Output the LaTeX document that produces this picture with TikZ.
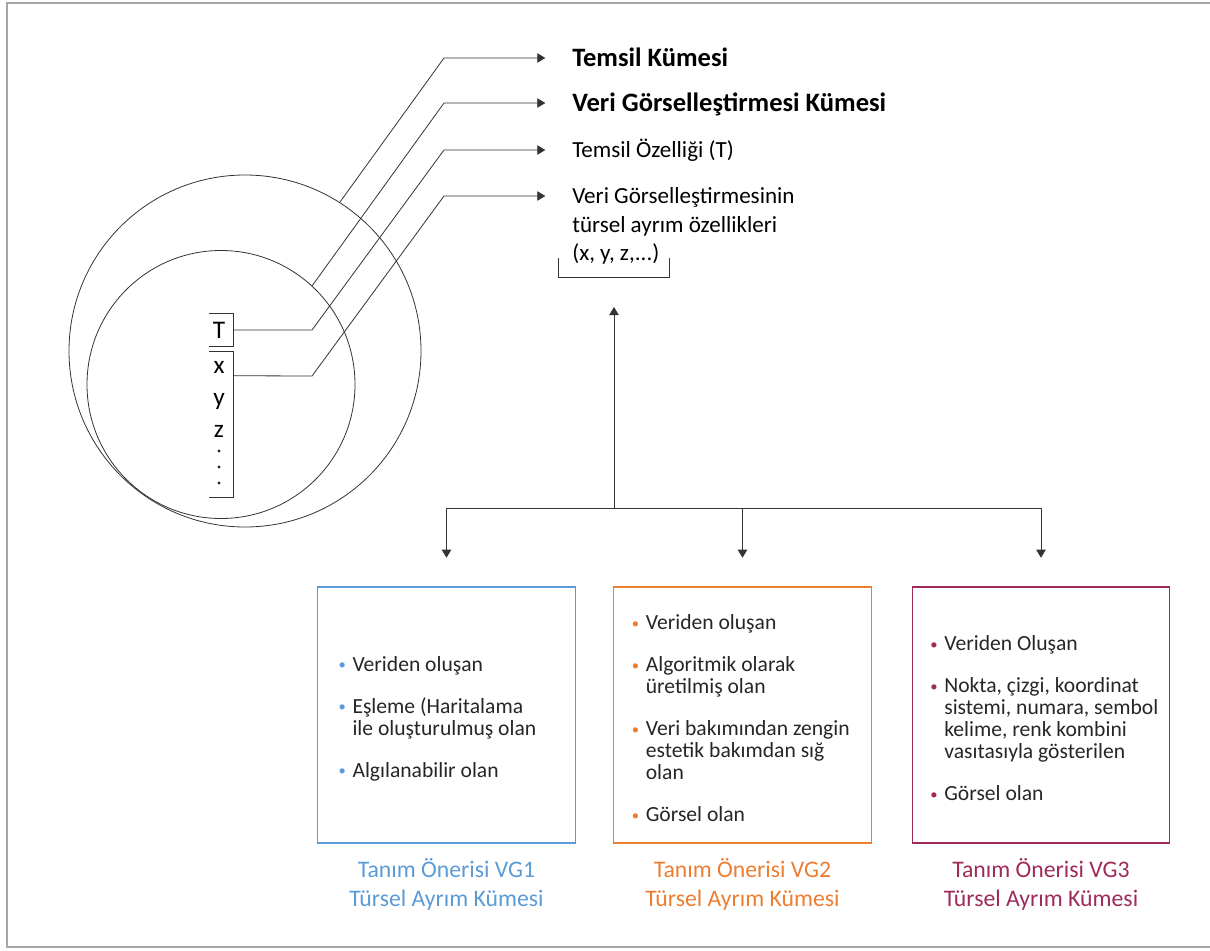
\documentclass[tikz,border=0pt]{standalone}
\usepackage{fontspec}
\setmainfont{Carlito}
\usepackage{enumitem}
\usetikzlibrary{arrows.meta,positioning}
\definecolor{vgblue}{RGB}{91,155,213}
\definecolor{vgorange}{RGB}{237,125,49}
\definecolor{vgred}{RGB}{158,42,90}
\definecolor{ink}{RGB}{38,38,38}
\newcommand{\vgdot}[1]{\raisebox{1pt}{\textcolor{#1}{\fontsize{11}{11}\selectfont\textbullet}}}
\newcommand{\plainspaces}{\spaceskip=0pt\xspaceskip=0pt\relax}
\begin{document}
\begin{tikzpicture}[x=0.75pt,y=-0.75pt,line cap=butt,line join=miter,>={Triangle[length=6pt,width=7pt]},
		ln/.style={black!80,line width=0.6pt},
		lbl/.style={anchor=west,inner sep=0pt,text height=11pt,text depth=0pt,font=\fontsize{17.3}{20}\selectfont},
		lblb/.style={lbl,text height=12.5pt,font=\fontsize{19.9}{22}\selectfont\bfseries},
		letter/.style={inner sep=0pt,text height=8.8pt,text depth=0pt,font=\fontsize{19}{22}\selectfont},
		brackbox/.style={inner sep=0pt,minimum width=18pt},
		vgbox/.style={draw=#1,line width=0.9pt,minimum width=193pt,minimum height=192pt,inner xsep=6pt,
			text width=181pt,text=ink,font=\fontsize{16.2}{16.5}\selectfont},
		vgcap/.style={text=#1,align=center,inner sep=0pt,font=\fontsize{17.8}{21.75}\selectfont}]
	\useasboundingbox (0,0) rectangle (1210,950);
	\draw[gray!70,line width=0.8pt] (1210,3)--(7,3)--(7,947)--(1210,947);
	% sets
	\draw[ln] (245,351) circle[radius=176];
	\draw[ln] (221,384.5) circle[radius=134];
	\coordinate (onOuter) at (340,202);
	\coordinate (onInner) at (312,286);
	% T and x, y, z, ...
	\node[brackbox,minimum height=24pt] (tbox) at (221,330) {};
	\node[letter] (tlet) at (219,333) {T};
	\draw[ln] (tbox.north west) -| (tbox.south east) -- (tbox.south west);
	\node[brackbox,minimum height=108.75pt] (xbox) at (221,424.5) {};
	\draw[ln] (xbox.north west) -| (xbox.south east) -- (xbox.south west);
	\node[anchor=north,inner sep=0pt,align=center,font=\fontsize{19}{24}\selectfont] (xyz) at (219,361.3)
		{x\\y\\z};
	\foreach \y in {451,467,483}{
		\fill[black!85] (219,\y) circle[radius=1.6];
	}
	% labels
	\node[lblb] (t1) at (572,58) {Temsil Kümesi};
	\node[lblb] (t2) at (572,103) {Veri Görselleştirmesi Kümesi};
	\node[lbl] (t3) at (572,150) {Temsil Özelliği (T)};
	\node[lbl] (t4) at (572,196) {Veri Görselleştirmesinin};
	\node[lbl] (t5) at (572,225) {türsel ayrım özellikleri};
	\node[lbl] (t6) at (572,253) {(x, y, z,...)};
	\draw[ln] (558,258) -- (558,277) -- (669,277) -- (669,258);
	\coordinate (brk) at (614,277);
	\begin{scope}[ln,->,shorten >=20pt]
		\draw (onOuter) -- (444,58) -- (t1);
		\draw (onInner) -- (444,103) -- (t2);
		\draw (tbox.east) -- (312,330) -- (444,150) -- (t3);
		\draw ([yshift=-18pt]xbox.north east) -- (312,376) -- (444,196) -- (t4);
	\end{scope}
	% proposals
	\node[vgbox=vgblue] (b1) at (446.5,715) {\raggedright\plainspaces
		\begin{itemize}[nosep,itemsep=15pt,left=9pt .. 20pt,labelsep=5pt,label=\vgdot{vgblue}]
			\item Veriden oluşan
			\item Eşleme (Haritalama\\ile oluşturulmuş olan
			\item Algılanabilir olan
		\end{itemize}};
	\node[vgbox=vgorange] (b2) at (742.5,715) {\raggedright\plainspaces
		\begin{itemize}[nosep,itemsep=15pt,left=7pt .. 18pt,labelsep=5pt,label=\vgdot{vgorange}]
			\item Veriden oluşan
			\item Algoritmik olarak\\üretilmiş olan
			\item Veri bakımından zengin\\estetik bakımdan sığ\\olan
			\item Görsel olan
		\end{itemize}};
	\node[vgbox=vgred] (b3) at (1041,715) {\raggedright\plainspaces
		\begin{itemize}[nosep,itemsep=15pt,left=7pt .. 18pt,labelsep=5pt,label=\vgdot{vgred}]
			\item Veriden Oluşan
			\item Nokta, çizgi, koordinat\\sistemi, numara, sembol\\kelime, renk kombini\\vasıtasıyla gösterilen
			\item Görsel olan
		\end{itemize}};
	\node[vgcap=vgblue,below=11pt of b1] (c1) {\plainspaces Tanım Önerisi VG1\\Türsel Ayrım Kümesi};
	\node[vgcap=vgorange,below=11pt of b2] (c2) {\plainspaces Tanım Önerisi VG2\\Türsel Ayrım Kümesi};
	\node[vgcap=vgred,below=11pt of b3] (c3) {\plainspaces Tanım Önerisi VG3\\Türsel Ayrım Kümesi};
	% arrows
	\coordinate (hub) at (614,508);
	\draw[ln,->,shorten >=22.5pt] (hub) -- (brk);
	\foreach \b in {b1,b2,b3}{
		\draw[ln,->,shorten >=21.5pt] (hub) -| (\b.north);
	}
\end{tikzpicture}
\end{document}
